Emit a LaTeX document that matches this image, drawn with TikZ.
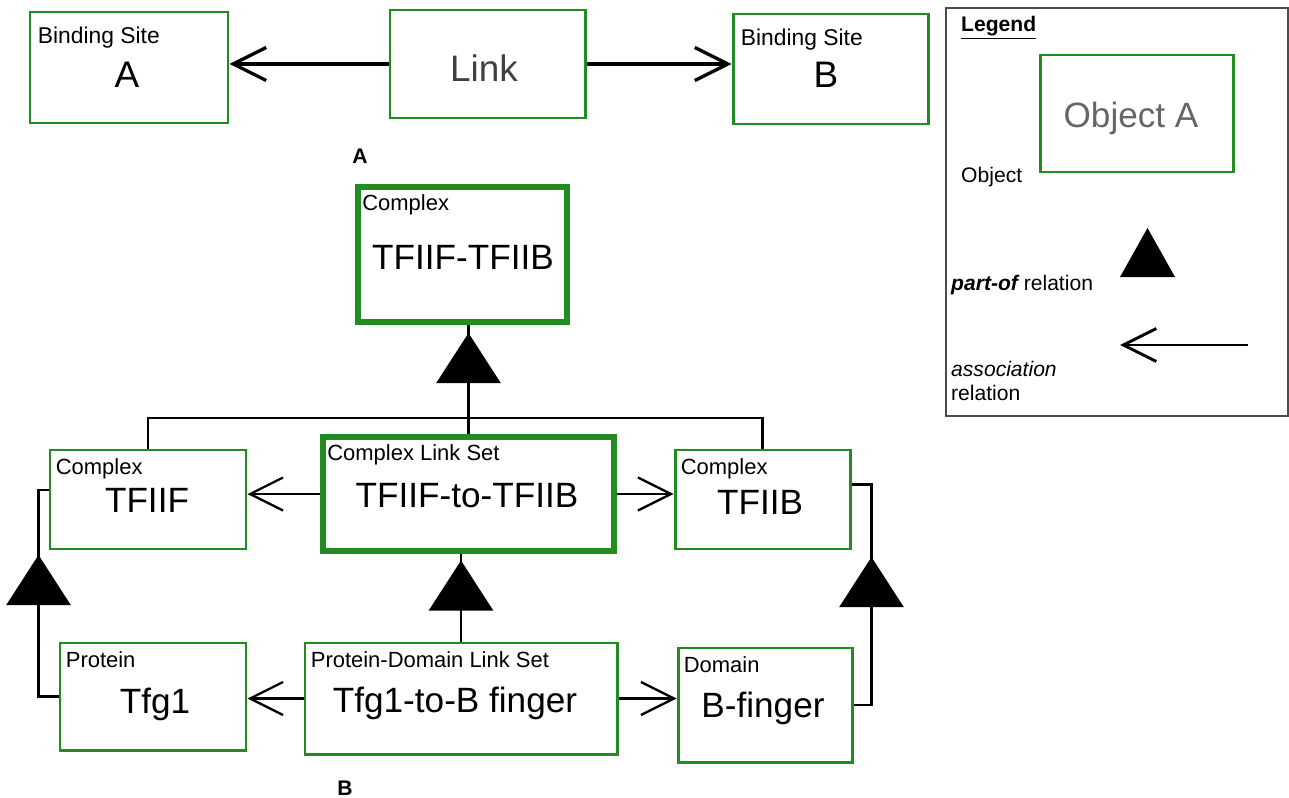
\documentclass[tikz,border=0pt]{standalone}
\usepackage{fontspec}
\setmainfont{Liberation Sans}
\usetikzlibrary{arrows.meta,decorations.markings}
\definecolor{objgreen}{RGB}{34,139,34}

\tikzset{
  obj/.style={draw=objgreen, line width=1.7pt, inner sep=0pt},
  objthick/.style={obj, line width=3.4pt},
  kindlbl/.style={anchor=north west, inner sep=0pt, xshift=1.4mm, yshift=-2mm, font=\fontsize{12.5}{14}\selectfont},
  mainlbl/.style={inner sep=0pt, font=\fontsize{20}{24}\selectfont},
  assoc/.style={line width=1.3pt, -{Straight Barb[length=6.6mm, width=6.6mm]}},
  partof/.style={line width=1.3pt, postaction=decorate,
    decoration={markings, mark=at position #1 with {\arrow{Triangle[length=10mm, width=12.8mm]}}}},
}

\begin{document}
\begin{tikzpicture}[x=0.2mm, y=-0.2mm]
  \useasboundingbox (0,0) rectangle (1289,798);

  % A: binding sites and link
  \node[obj, minimum width=39.6mm, minimum height=22.2mm] (bsA) at (129,67.5) {};
  \node[obj, minimum width=39mm, minimum height=21.6mm] (link) at (487.5,64) {};
  \node[obj, minimum width=39mm, minimum height=22mm] (bsB) at (830.5,69) {};
  \node[kindlbl, xshift=0.4mm, yshift=-1.2mm, font=\fontsize{13}{15}\selectfont] (bsA-k) at (bsA.north west) {Binding Site};
  \node[kindlbl, xshift=0.4mm, yshift=-1.2mm, font=\fontsize{13}{15}\selectfont] (bsB-k) at (bsB.north west) {Binding Site};
  \node[mainlbl, font=\fontsize{21}{25}\selectfont] (bsA-t) at (127,75) {A};
  \node[mainlbl, font=\fontsize{21}{25}\selectfont, text=black!75] (link-t) at (484,68) {Link};
  \node[mainlbl, font=\fontsize{21}{25}\selectfont] (bsB-t) at (826,75) {B};
  \draw[assoc, line width=1.9pt] (link.west) -- (link.west -| bsA.east);
  \draw[assoc, line width=1.9pt] (link.east) -- (link.east -| bsB.west);
  \node[font=\fontsize{12}{14}\selectfont\bfseries] (panA) at (360,156) {A};

  % B: complexes, proteins, link sets
  \node[objthick, minimum width=41.8mm, minimum height=27mm] (cplx) at (462.5,254.5) {};
  \node[obj, minimum width=39.2mm, minimum height=19.8mm] (tfiif) at (148,499.5) {};
  \node[objthick, minimum width=58.2mm, minimum height=22.8mm] (cls) at (468.5,494) {};
  \node[obj, minimum width=35mm, minimum height=19.8mm] (tfiib) at (762.5,499.5) {};
  \node[obj, minimum width=37.2mm, minimum height=21.4mm] (tfg1) at (153,696.5) {};
  \node[obj, minimum width=62.4mm, minimum height=22.2mm] (pdls) at (461,698.5) {};
  \node[obj, minimum width=34.8mm, minimum height=22.8mm] (bfing) at (765,705) {};

  \node[kindlbl] (cplx-k) at (cplx.north west) {Complex};
  \node[kindlbl] (tfiif-k) at (tfiif.north west) {Complex};
  \node[kindlbl] (cls-k) at (cls.north west) {Complex Link Set};
  \node[kindlbl] (tfiib-k) at (tfiib.north west) {Complex};
  \node[kindlbl] (tfg1-k) at (tfg1.north west) {Protein};
  \node[kindlbl] (pdls-k) at (pdls.north west) {Protein-Domain Link Set};
  \node[kindlbl] (bfing-k) at (bfing.north west) {Domain};

  \node[mainlbl] (cplx-t) at (463,257) {TFIIF-TFIIB};
  \node[mainlbl] (tfiif-t) at (147,500) {TFIIF};
  \node[mainlbl] (cls-t) at (467,496) {TFIIF-to-TFIIB};
  \node[mainlbl] (tfiib-t) at (760,502) {TFIIB};
  \node[mainlbl] (tfg1-t) at (155,704) {Tfg1};
  \node[mainlbl] (pdls-t) at (455,703) {Tfg1-to-B finger};
  \node[mainlbl] (bfing-t) at (763,708) {B-finger};

  \draw[assoc] (cls.west) -- (cls.west -| tfiif.east);
  \draw[assoc] (cls.east) -- (cls.east -| tfiib.west);
  \draw[assoc] (pdls.west) -- (pdls.west -| tfg1.east);
  \draw[assoc] (pdls.east) -- (pdls.east -| bfing.west);

  \coordinate (jn) at (cls.north |- 0,418);
  \draw[line width=1.3pt] (tfiif.north) |- (jn) -| (tfiib.north);
  \draw[line width=1.3pt] (cls.north) -- (jn);
  \draw[partof=17mm] (jn) -- (jn |- cplx.south);
  \draw[partof=16.2mm] (pdls.north) -- (pdls.north |- cls.south);
  \draw[partof=32.3mm] (tfg1.west) -- ++(-20,0) |- ([yshift=1.9mm]tfiif.west);
  \draw[partof=33.2mm] (bfing.east) -- ++(18,0) |- ([yshift=3mm]tfiib.east);
  \node[font=\fontsize{12}{14}\selectfont\bfseries] (panB) at (345,788) {B};

  % legend
  \node[draw=black!70, line width=0.6pt, minimum width=68.4mm, minimum height=81.6mm] (legend) at (1117,212) {};
  \node[anchor=west, font=\fontsize{12}{14}\selectfont\bfseries] (leg-t) at (955,28) {\underline{Legend}};
  \node[obj, minimum width=38.6mm, minimum height=23.4mm] (objA) at (1136.5,113.5) {};
  \node[mainlbl, text=black!60] (objA-t) at (1131,118) {Object A};
  \node[anchor=west, font=\fontsize{12}{14}\selectfont] (leg-obj) at (955,177) {Object};
  \fill (1120,277) -- (1175,277) -- (1147.5,228) -- cycle;
  \node[anchor=west, font=\fontsize{12}{14}\selectfont] (leg-part) at (945,285) {{\bfseries\itshape part-of} relation};
  \coordinate (la-s) at (1248,345);
  \coordinate (la-e) at (1120,345);
  \draw[assoc, line width=1.7pt] (la-s) -- (la-e);
  \node[anchor=north west, align=left, font=\fontsize{12}{13.6}\selectfont] (leg-assoc) at (945,355) {\textit{association}\\relation};
\end{tikzpicture}
\end{document}
